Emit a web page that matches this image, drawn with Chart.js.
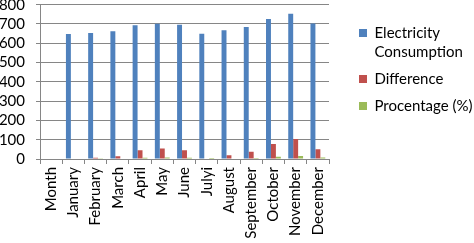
<!DOCTYPE html>
<html>
<head>
<meta charset="utf-8">
<script src="https://cdn.jsdelivr.net/npm/chart.js@4.4.1/dist/chart.umd.min.js"></script>
<style>
  html, body { margin: 0; padding: 0; background: #fff; }
  #wrap { width: 474px; height: 243px; }
</style>
</head>
<body>
<div id="wrap"><canvas id="chart" width="474" height="243"></canvas></div>
<script>
const months = ['Month', 'January', 'February', 'March', 'April', 'May', 'June',
  'Julyi', 'August', 'September', 'October', 'November', 'December'];
const consumption = [null, 648, 653, 662, 694, 701, 696, 650, 668, 684, 726, 753, 702];
const difference = [null, 0, 6, 14, 46, 54, 46, 2, 20, 37, 78, 104, 51];
const percentage = [null, 0, 0.9, 2.1, 7, 8, 7, 0.3, 3, 5.5, 12, 16, 7.5];
const seriesNames = ['Electricity Consumption', 'Difference', 'Procentage (%)'];
const legendLines = [['Electricity', 'Consumption'], ['Difference'], ['Procentage (%)']];

const GREY = '#868686';
Chart.defaults.font.family = 'Lato';
Chart.defaults.color = '#000';

// chart.js would make the legend as wide as its text, keep it fixed instead
const legendWidth = {
  id: 'legendWidth',
  beforeLayout(chart) {
    const legend = chart.legend;
    if (!legend || legend.fixedFit) return;
    const fit = legend.fit;
    legend.fit = function () {
      fit.call(this);
      this.width = 123;
    };
    legend.fixedFit = true;
  },
};

new Chart(document.getElementById('chart'), {
  type: 'bar',
  data: {
    labels: months,
    datasets: [
      { label: seriesNames[0], data: consumption, backgroundColor: '#4F81BD' },
      { label: seriesNames[1], data: difference, backgroundColor: '#C0504D' },
      { label: seriesNames[2], data: percentage, backgroundColor: '#9BBB59' },
    ],
  },
  options: {
    responsive: false,
    devicePixelRatio: 1,
    animation: false,
    layout: { padding: 0 },
    datasets: {
      bar: { categoryPercentage: 0.667, barPercentage: 1 },
    },
    scales: {
      x: {
        grid: { drawOnChartArea: false, offset: true, tickLength: 5, color: GREY },
        border: { color: GREY },
        ticks: {
          minRotation: 90,
          maxRotation: 90,
          autoSkip: false,
          padding: 3,
          font: { size: 15 },
        },
        afterFit(scale) { scale.height = 84; },
      },
      y: {
        min: 0,
        max: 800,
        grid: { color: GREY, tickLength: 4 },
        border: { color: GREY },
        ticks: {
          stepSize: 100,
          autoSkip: false,
          padding: 11,
          font: { size: 15 },
        },
        afterFit(scale) {
          // top label may run off the canvas like in the original
          scale.width = 40;
          scale.paddingTop = 4.7;
          scale.paddingBottom = 0;
        },
      },
      gap: {
        type: 'linear',
        position: 'right',
        grid: { display: false },
        border: { display: false },
        ticks: { display: false },
        afterFit(scale) { scale.width = 22; },
      },
    },
    plugins: {
      tooltip: { enabled: false },
      legend: {
        position: 'right',
        align: 'start',
        title: {
          display: true,
          text: '',
          padding: { top: 7.5, bottom: 0 },
          font: { size: 10, lineHeight: 1 },
        },
        labels: {
          boxWidth: 8,
          boxHeight: 8,
          padding: 8,
          font: { size: 15, lineHeight: 19 / 15 },
          generateLabels(chart) {
            const items = Chart.defaults.plugins.legend.labels.generateLabels(chart);
            items.forEach((item, i) => { item.text = legendLines[i]; });
            return items;
          },
        },
      },
    },
  },
  plugins: [legendWidth],
});
</script>
</body>
</html>
